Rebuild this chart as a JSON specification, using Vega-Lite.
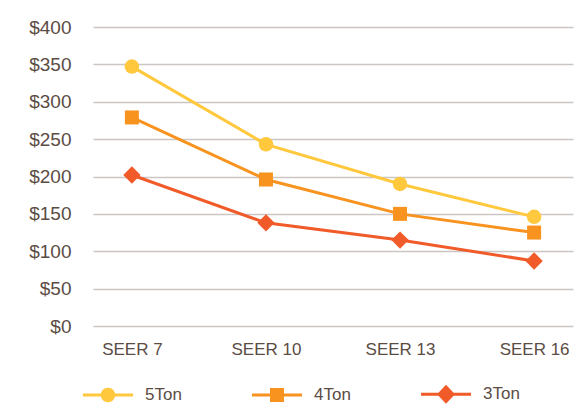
{
  "$schema": "https://vega.github.io/schema/vega-lite/v6.json",
  "width": 480,
  "height": 299,
  "autosize": "none",
  "padding": {"left": 93, "top": 27, "right": 3, "bottom": 78},
  "background": "white",
  "config": {
    "view": {"stroke": null},
    "font": "Liberation Sans",
    "axis": {"labelColor": "#5b4c44", "labelFont": "Liberation Sans"},
    "legend": {"labelColor": "#5b4c44", "labelFont": "Liberation Sans"}
  },
  "data": {
    "values": [
      {"seer": "SEER 7", "series": "5Ton", "cost": 347},
      {"seer": "SEER 10", "series": "5Ton", "cost": 243},
      {"seer": "SEER 13", "series": "5Ton", "cost": 190},
      {"seer": "SEER 16", "series": "5Ton", "cost": 146},
      {"seer": "SEER 7", "series": "4Ton", "cost": 279},
      {"seer": "SEER 10", "series": "4Ton", "cost": 196},
      {"seer": "SEER 13", "series": "4Ton", "cost": 150},
      {"seer": "SEER 16", "series": "4Ton", "cost": 125},
      {"seer": "SEER 7", "series": "3Ton", "cost": 202},
      {"seer": "SEER 10", "series": "3Ton", "cost": 138},
      {"seer": "SEER 13", "series": "3Ton", "cost": 115},
      {"seer": "SEER 16", "series": "3Ton", "cost": 87}
    ]
  },
  "encoding": {
    "x": {
      "field": "seer",
      "type": "ordinal",
      "sort": ["SEER 7", "SEER 10", "SEER 13", "SEER 16"],
      "scale": {"type": "point", "padding": 0.29},
      "axis": {
        "title": null,
        "domain": false,
        "ticks": false,
        "labelAngle": 0,
        "labelFontSize": 17,
        "labelPadding": 15,
        "grid": false
      }
    },
    "y": {
      "field": "cost",
      "type": "quantitative",
      "scale": {"domain": [0, 400], "nice": false},
      "axis": {
        "title": null,
        "values": [0, 50, 100, 150, 200, 250, 300, 350, 400],
        "format": "$,.0f",
        "domain": false,
        "ticks": false,
        "grid": true,
        "gridColor": "#cbc6c3",
        "gridWidth": 1.5,
        "labelFontSize": 19,
        "labelPadding": 22
      }
    }
  },
  "resolve": {"legend": {"color": "independent", "shape": "independent"}},
  "layer": [
    {
      "mark": {"type": "line", "strokeWidth": 3},
      "encoding": {
        "color": {
          "field": "series",
          "type": "nominal",
          "scale": {"domain": ["5Ton", "4Ton", "3Ton"], "range": ["#FFC83D", "#F7931E", "#F15A29"]},
          "legend": null
        }
      }
    },
    {
      "mark": {"type": "point", "filled": true, "opacity": 1},
      "encoding": {
        "color": {"field": "series", "type": "nominal", "legend": null},
        "shape": {
          "condition": [
            {"test": "datum.series === '5Ton'", "value": "circle"},
            {"test": "datum.series === '4Ton'", "value": "square"}
          ],
          "value": "diamond"
        },
        "size": {
          "condition": [
            {"test": "datum.series === '5Ton'", "value": 210},
            {"test": "datum.series === '4Ton'", "value": 196}
          ],
          "value": 300
        }
      }
    },
    {
      "transform": [{"filter": "false"}],
      "mark": {"type": "point", "filled": true, "opacity": 1},
      "encoding": {
        "color": {
          "field": "series",
          "type": "nominal",
          "legend": {
            "title": null,
            "orient": "none",
            "legendX": -10,
            "legendY": 342,
            "direction": "horizontal",
            "symbolSize": 2500,
            "symbolStrokeWidth": 0,
            "symbolOpacity": 1,
            "labelFontSize": 17,
            "labelOffset": 12,
            "columnPadding": 70
          }
        },
        "shape": {
          "field": "series",
          "type": "nominal",
          "scale": {
            "domain": ["5Ton", "4Ton", "3Ton"],
            "range": [
              "M-1,-0.06H1V0.06H-1Z M0.29,0 A0.29,0.29 0 1,1 -0.29,0 A0.29,0.29 0 1,1 0.29,0 Z",
              "M-1,-0.06H1V0.06H-1Z M-0.28,-0.28H0.28V0.28H-0.28Z",
              "M-1,-0.06H1V0.06H-1Z M0,-0.38L0.36,0L0,0.38L-0.36,0Z"
            ]
          },
          "legend": {
            "title": null,
            "orient": "none",
            "legendX": -10,
            "legendY": 342,
            "direction": "horizontal",
            "symbolSize": 2500,
            "symbolStrokeWidth": 0,
            "symbolOpacity": 1,
            "labelFontSize": 17,
            "labelOffset": 12,
            "columnPadding": 70
          }
        }
      }
    }
  ]
}
